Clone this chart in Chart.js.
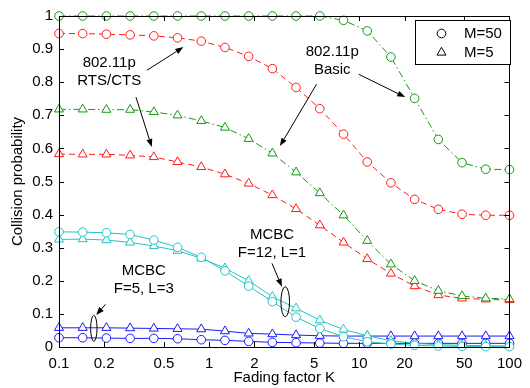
<!DOCTYPE html>
<html>
<head>
<meta charset="utf-8">
<script src="https://cdn.jsdelivr.net/npm/chart.js@4.4.1/dist/chart.umd.min.js"></script>
<style>
html,body{margin:0;padding:0;background:#fff;}
#wrap{width:530px;height:388px;position:relative;}
</style>
</head>
<body>
<div id="wrap"><canvas id="c" width="530" height="388"></canvas></div>
<script>
// Fading factor K (sample points)
const fadingK = [0.1, 0.1438, 0.2069, 0.2976, 0.4281, 0.6158, 0.8858, 1.274, 1.833, 2.636,
                 3.792, 5.454, 7.846, 11.29, 16.23, 23.35, 33.59, 48.31, 69.49, 100];
// Series values (collision probability)
const basicM50 = [1.0, 1.0, 1.0, 1.0, 1.0, 1.0, 1.0, 1.0, 1.0, 1.0,
                  1.0, 1.0, 0.987, 0.955, 0.876, 0.751, 0.627, 0.557, 0.537, 0.536];
const rtsM50   = [0.947, 0.947, 0.945, 0.943, 0.940, 0.934, 0.924, 0.905, 0.878, 0.841,
                  0.784, 0.720, 0.643, 0.559, 0.496, 0.446, 0.416, 0.401, 0.398, 0.398];
const basicM5  = [0.718, 0.718, 0.717, 0.717, 0.710, 0.700, 0.683, 0.663, 0.629, 0.585,
                  0.528, 0.465, 0.398, 0.321, 0.250, 0.200, 0.170, 0.154, 0.147, 0.145];
const rtsM5    = [0.583, 0.582, 0.582, 0.579, 0.574, 0.559, 0.544, 0.522, 0.494, 0.459,
                  0.417, 0.368, 0.316, 0.266, 0.222, 0.184, 0.157, 0.147, 0.144, 0.142];
const mcbc12M50 = [0.348, 0.347, 0.345, 0.340, 0.323, 0.301, 0.271, 0.230, 0.184, 0.137,
                   0.090, 0.056, 0.031, 0.016, 0.009, 0.005, 0.003, 0.002, 0.001, 0.001];
const mcbc12M5  = [0.325, 0.326, 0.323, 0.316, 0.305, 0.291, 0.268, 0.238, 0.200, 0.152,
                   0.117, 0.081, 0.053, 0.034, 0.019, 0.011, 0.007, 0.005, 0.004, 0.003];
const mcbc5M5   = [0.058, 0.058, 0.058, 0.057, 0.056, 0.055, 0.054, 0.048, 0.041, 0.039,
                   0.036, 0.034, 0.033, 0.033, 0.033, 0.033, 0.033, 0.033, 0.033, 0.033];
const mcbc5M50  = [0.028, 0.028, 0.027, 0.026, 0.026, 0.025, 0.022, 0.020, 0.017, 0.014,
                   0.013, 0.012, 0.011, 0.011, 0.011, 0.011, 0.011, 0.011, 0.011, 0.011];
// Tick labels
const xTicks = [0.1, 0.2, 0.5, 1, 2, 5, 10, 20, 50, 100];
const yTicks = [0, 0.1, 0.2, 0.3, 0.4, 0.5, 0.6, 0.7, 0.8, 0.9, 1];
const legendLabels = ['M=50', 'M=5'];
const xTitle = 'Fading factor K';
const yTitle = 'Collision probability';
// Annotations (data coordinates)
const textNotes = [
  {lines: ['802.11p', 'RTS/CTS'], x: 0.216, y: 0.830},
  {lines: ['802.11p', 'Basic'], x: 6.6, y: 0.865},
  {lines: ['MCBC', 'F=5, L=3'], x: 0.367, y: 0.202},
  {lines: ['MCBC', 'F=12, L=1'], x: 2.62, y: 0.311}
];
const arrowNotes = [
  {x1: 0.385, y1: 0.836, x2: 0.673, y2: 0.906},
  {x1: 0.3255, y1: 0.755, x2: 0.415, y2: 0.604},
  {x1: 9.9, y1: 0.824, x2: 20.2, y2: 0.755},
  {x1: 5.19, y1: 0.794, x2: 2.96, y2: 0.607},
  {x1: 0.204, y1: 0.129, x2: 0.177, y2: 0.0966},
  {x1: 2.62, y1: 0.2526, x2: 3.05, y2: 0.182}
];
const ellipseNotes = [
  {x: 0.1706, y: 0.0564},
  {x: 3.21, y: 0.1367}
];

const GREEN = '#129a12', RED = '#ff1a1a', CYAN = '#22c4c4', BLUE = '#1a1aff';
const FONT = '"Liberation Sans", Arial, Helvetica, sans-serif';

function pts(vals){ return vals.map((v,i)=>({x: fadingK[i], y: v})); }
function ds(vals, color, shape, dash){
  return {
    data: pts(vals), borderColor: color, backgroundColor: '#fff',
    borderWidth: 1, borderDash: dash, pointStyle: shape,
    pointRadius: shape === 'circle' ? 4.3 : 5.2,
    pointBorderColor: color, pointBackgroundColor: '#fff', pointBorderWidth: 1,
    tension: 0, fill: false, clip: false
  };
}

const DASHDOT = [7, 3, 1.5, 3];
const DASH = [6, 4];

const overlay = {
  id: 'overlay',
  afterDatasetsDraw(chart){
    const ctx = chart.ctx, xs = chart.scales.x, ys = chart.scales.y, a = chart.chartArea;
    ctx.save();
    // frame
    ctx.strokeStyle = '#000'; ctx.lineWidth = 1; ctx.setLineDash([]);
    ctx.strokeRect(Math.round(a.left)+0.5, Math.round(a.top)+0.5, Math.round(a.right-a.left), Math.round(a.bottom-a.top));
    // inward ticks
    const TL = 5;
    ctx.beginPath();
    xTicks.forEach(v=>{
      const px = Math.round(xs.getPixelForValue(v))+0.5;
      ctx.moveTo(px, a.bottom); ctx.lineTo(px, a.bottom-TL);
      ctx.moveTo(px, a.top); ctx.lineTo(px, a.top+TL);
    });
    yTicks.forEach(v=>{
      const py = Math.round(ys.getPixelForValue(v))+0.5;
      ctx.moveTo(a.left, py); ctx.lineTo(a.left+TL, py);
      ctx.moveTo(a.right, py); ctx.lineTo(a.right-TL, py);
    });
    ctx.stroke();
    // text annotations
    ctx.fillStyle = '#000';
    ctx.font = '15px ' + FONT;
    ctx.textAlign = 'center'; ctx.textBaseline = 'middle';
    textNotes.forEach(n=>{
      const cx = xs.getPixelForValue(n.x), cy = ys.getPixelForValue(n.y);
      const lh = 18;
      n.lines.forEach((t,i)=>{
        ctx.fillText(t, cx, cy + (i - (n.lines.length-1)/2)*lh);
      });
    });
    // arrows
    arrowNotes.forEach(n=>{
      const x1 = xs.getPixelForValue(n.x1), y1 = ys.getPixelForValue(n.y1);
      const x2 = xs.getPixelForValue(n.x2), y2 = ys.getPixelForValue(n.y2);
      const ang = Math.atan2(y2-y1, x2-x1);
      const hl = 8, hw = 3;
      const bx = x2 - hl*Math.cos(ang), by = y2 - hl*Math.sin(ang);
      ctx.beginPath(); ctx.moveTo(x1,y1); ctx.lineTo(bx,by); ctx.stroke();
      ctx.beginPath();
      ctx.moveTo(x2,y2);
      ctx.lineTo(bx + hw*Math.sin(ang), by - hw*Math.cos(ang));
      ctx.lineTo(bx - hw*Math.sin(ang), by + hw*Math.cos(ang));
      ctx.closePath(); ctx.fill();
    });
    // ellipses
    const ell = [[3.2, 13], [4.3, 15]];
    ellipseNotes.forEach((n,i)=>{
      const cx = xs.getPixelForValue(n.x), cy = ys.getPixelForValue(n.y);
      ctx.beginPath(); ctx.ellipse(cx, cy, ell[i][0], ell[i][1], 0, 0, Math.PI*2); ctx.stroke();
    });
    // legend box
    const lx = 415.5, ly = 20.5, lw = 95, lh2 = 44;
    ctx.fillStyle = '#fff'; ctx.fillRect(lx, ly, lw, lh2);
    ctx.strokeRect(lx, ly, lw, lh2);
    ctx.fillStyle = '#000';
    ctx.textAlign = 'left';
    // circle marker
    ctx.beginPath(); ctx.arc(441.5, 33.5, 4.3, 0, Math.PI*2); ctx.stroke();
    // triangle marker
    const tr = 5.2, tx = 441.5, ty = 52.5;
    ctx.beginPath();
    ctx.moveTo(tx, ty - tr);
    ctx.lineTo(tx + tr*Math.sin(2*Math.PI/3), ty - tr*Math.cos(2*Math.PI/3));
    ctx.lineTo(tx + tr*Math.sin(4*Math.PI/3), ty - tr*Math.cos(4*Math.PI/3));
    ctx.closePath(); ctx.stroke();
    ctx.fillText(legendLabels[0], 464, 34);
    ctx.fillText(legendLabels[1], 464, 53);
    ctx.restore();
  }
};

new Chart(document.getElementById('c'), {
  type: 'line',
  data: {
    datasets: [
      ds(basicM50, GREEN, 'circle', DASHDOT),
      ds(basicM5, GREEN, 'triangle', DASHDOT),
      ds(rtsM50, RED, 'circle', DASH),
      ds(rtsM5, RED, 'triangle', DASH),
      ds(mcbc12M50, CYAN, 'circle', []),
      ds(mcbc12M5, CYAN, 'triangle', []),
      ds(mcbc5M5, BLUE, 'triangle', []),
      ds(mcbc5M50, BLUE, 'circle', [])
    ]
  },
  options: {
    responsive: false,
    animation: false,
    devicePixelRatio: 1,
    layout: {padding: {top: 16, right: 14, left: 0, bottom: 0}},
    plugins: {legend: {display: false}, tooltip: {enabled: false}},
    elements: {line: {borderCapStyle: 'butt'}},
    scales: {
      x: {
        type: 'logarithmic', min: 0.1, max: 100,
        afterBuildTicks: (s)=>{ s.ticks = xTicks.map(v=>({value: v})); },
        afterFit: (s)=>{ s.height = 41; },
        ticks: {
          autoSkip: false, maxRotation: 0, padding: 8, color: '#000',
          font: {family: FONT, size: 15},
          callback: (v)=> String(v)
        },
        grid: {display: false, drawTicks: false},
        border: {display: false},
        title: {display: true, text: xTitle, color: '#000', font: {family: FONT, size: 15}, padding: {top: 1, bottom: 1}}
      },
      y: {
        min: 0, max: 1,
        afterBuildTicks: (s)=>{ s.ticks = yTicks.map(v=>({value: v})); },
        afterFit: (s)=>{ s.width = 59; },
        ticks: {
          autoSkip: false, padding: 6, color: '#000',
          font: {family: FONT, size: 15},
          callback: (v)=> String(+Number(v).toFixed(1))
        },
        grid: {display: false, drawTicks: false},
        border: {display: false},
        title: {display: true, text: yTitle, color: '#000', font: {family: FONT, size: 15}, padding: {top: 9, bottom: 9}}
      }
    }
  },
  plugins: [overlay]
});
</script>
</body>
</html>
